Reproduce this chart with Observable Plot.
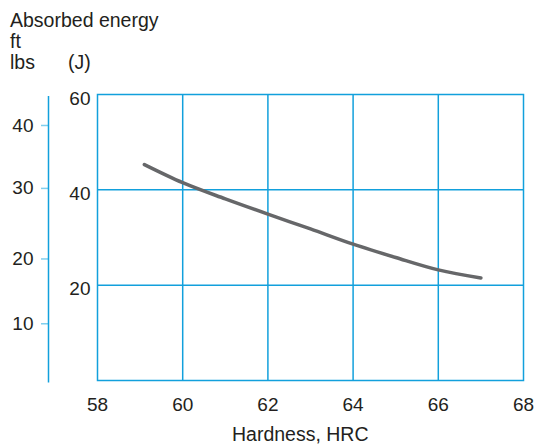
<!DOCTYPE html>
<html>
<head>
<meta charset="utf-8">
<script src="https://cdn.jsdelivr.net/npm/d3@7"></script>
<script src="https://cdn.jsdelivr.net/npm/@observablehq/plot@0.6"></script>
<style>
  body { margin: 0; background: #fff; }
  #wrap { position: relative; width: 537px; height: 444px; font-family: "Liberation Sans", Arial, sans-serif; color: #231f20; }
  .lbl { position: absolute; font-size: 19.5px; line-height: 19.5px; white-space: nowrap; }
  svg { display: block; }
</style>
</head>
<body>
<div id="wrap"></div>
<script>
// Data
const hardness = [59.1, 60, 61, 62, 63, 64, 65, 66, 67];
const energyJ  = [45.3, 41.5, 38.1, 34.9, 31.8, 28.6, 25.8, 23.2, 21.5];
const xTicks = [58, 60, 62, 64, 66, 68];
const jTicks = [20, 40, 60];
const ftlbTicks = [10, 20, 30, 40];
// where each ft·lbs tick sits on the joule scale
const ftlbTickAtJ = [11.9, 25.5, 40.3, 53.5];

const data = hardness.map((h, i) => ({h, e: energyJ[i]}));
const blue = "#12a0dc";

const chart = Plot.plot({
  width: 537,
  height: 444,
  marginTop: 94,
  marginLeft: 97,
  marginRight: 14,
  marginBottom: 64,
  style: {fontFamily: "'Liberation Sans', Arial, sans-serif", fontSize: "19px", color: "#231f20", background: "#fff"},
  x: {domain: [58, 68]},
  y: {domain: [0, 60]},
  marks: [
    Plot.gridX([60, 62, 64, 66], {stroke: blue, strokeOpacity: 1, strokeWidth: 1.5}),
    Plot.gridY([20, 40], {stroke: blue, strokeOpacity: 1, strokeWidth: 1.5}),
    Plot.frame({stroke: blue, strokeWidth: 1.5}),
    Plot.axisX(xTicks, {tickSize: 0, tickPadding: 17, label: null, fill: "#231f20"}),
    Plot.axisY(jTicks, {anchor: "left", tickSize: 0, tickPadding: 7, dy: 4, label: null, fill: "#231f20"}),
    // secondary ft·lbs axis
    Plot.axisY(ftlbTickAtJ, {
      anchor: "left", tickSize: 7, tickPadding: 8, dx: -49, label: null,
      tickFormat: (d) => String(ftlbTicks[ftlbTickAtJ.indexOf(d)]),
      stroke: "#7fcfee", strokeWidth: 1.5, fill: "#231f20"
    }),
    Plot.ruleX([58], {y1: -0.5, y2: 59.6, dx: -49, stroke: blue, strokeWidth: 1.5}),
    Plot.line(data, {x: "h", y: "e", stroke: "#666769", strokeWidth: 3.5, curve: "monotone-x"})
  ]
});

const wrap = document.getElementById("wrap");
wrap.appendChild(chart);
function label(text, left, top) {
  const d = document.createElement("div");
  d.className = "lbl";
  d.textContent = text;
  d.style.left = left + "px";
  d.style.top = top + "px";
  wrap.appendChild(d);
}
label("Absorbed energy", 10, 10.5);
label("ft", 10, 31.5);
label("lbs", 10, 52.5);
label("(J)", 68, 52.5);
label("Hardness, HRC", 232, 425);
</script>
</body>
</html>
